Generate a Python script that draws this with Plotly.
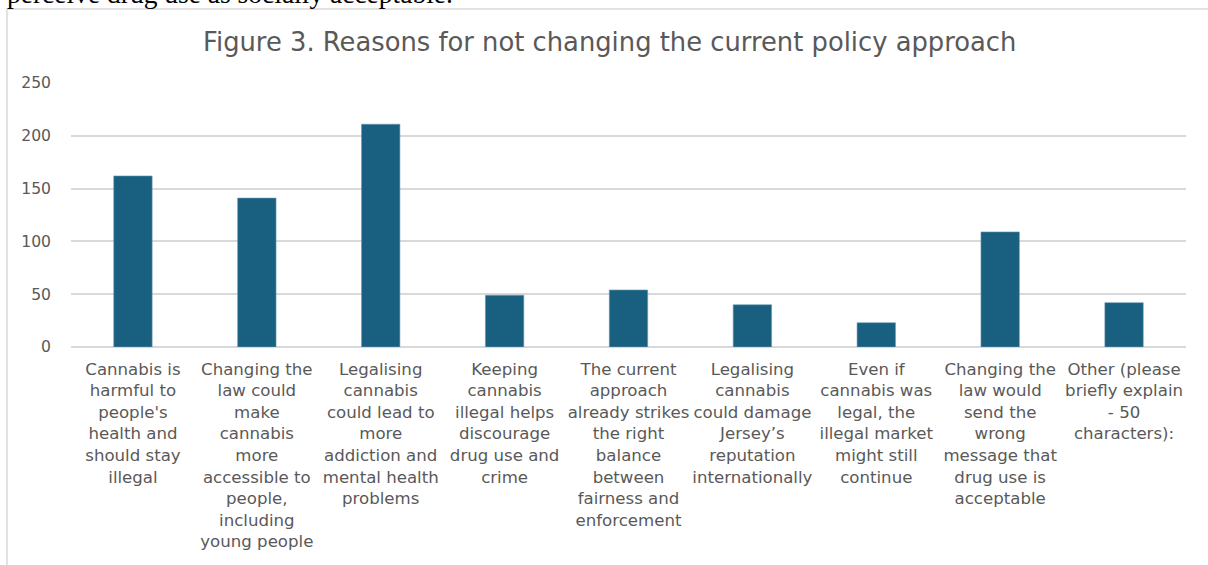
import plotly.graph_objects as go

categories = [
    "Cannabis is<br>harmful to<br>people's<br>health and<br>should stay<br>illegal",
    "Changing the<br>law could<br>make<br>cannabis<br>more<br>accessible to<br>people,<br>including<br>young people",
    "Legalising<br>cannabis<br>could lead to<br>more<br>addiction and<br>mental health<br>problems",
    "Keeping<br>cannabis<br>illegal helps<br>discourage<br>drug use and<br>crime",
    "The current<br>approach<br>already strikes<br>the right<br>balance<br>between<br>fairness and<br>enforcement",
    "Legalising<br>cannabis<br>could damage<br>Jersey’s<br>reputation<br>internationally",
    "Even if<br>cannabis was<br>legal, the<br>illegal market<br>might still<br>continue",
    "Changing the<br>law would<br>send the<br>wrong<br>message that<br>drug use is<br>acceptable",
    "Other (please<br>briefly explain<br>- 50<br>characters):",
]
values = [162, 141, 211, 49, 54, 40, 23, 109, 42]
y_ticks = [0, 50, 100, 150, 200, 250]

W, H = 1208, 565
L, R, T, B = 71, 1186, 83, 347
FONT = "DejaVu Sans"

def px_x(x):
    return (x - L) / (R - L)

def px_y(y):
    return (B - y) / (B - T)

fig = go.Figure(go.Bar(
    x=list(range(len(categories))),
    y=values,
    marker=dict(color="#185f80", line=dict(color="#6f9bb1", width=0.6)),
    width=0.31,
))

fig.update_layout(
    width=W, height=H, autosize=False,
    margin=dict(l=L, r=W - R, t=T, b=H - B, pad=0),
    plot_bgcolor="white", paper_bgcolor="white",
    showlegend=False,
    font=dict(family=FONT, color="#595959"),
    xaxis=dict(
        tickmode="array", tickvals=list(range(len(categories))), ticktext=categories,
        range=[-0.5, len(categories) - 0.5], showgrid=False, zeroline=False,
        showline=False, ticks="", tickangle=0, ticklabelstandoff=10,
        tickfont=dict(size=16.6, color="#595959", family=FONT),
    ),
    yaxis=dict(
        range=[0, 250], tickvals=y_ticks, showgrid=True, gridcolor="#d9d9d9",
        gridwidth=1.5, zeroline=True, zerolinecolor="#d9d9d9", zerolinewidth=1.5,
        showline=False, ticks="", ticklabelstandoff=19,
        tickfont=dict(size=15.6, color="#595959", family=FONT),
    ),
    shapes=[dict(
        type="rect", xref="paper", yref="paper",
        x0=px_x(7), x1=px_x(1230), y0=px_y(600), y1=px_y(9),
        line=dict(color="#d9d9d9", width=1.5), fillcolor="rgba(0,0,0,0)", layer="below",
    )],
    annotations=[
        dict(text="Figure 3. Reasons for not changing the current policy approach",
             xref="paper", yref="paper", x=px_x(609), y=px_y(42),
             xanchor="center", yanchor="middle", showarrow=False,
             font=dict(size=25.8, color="#595959", family=FONT)),
        dict(text="perceive drug use as socially acceptable.",
             xref="paper", yref="paper", x=px_x(5), y=px_y(-7),
             xanchor="left", yanchor="middle", showarrow=False,
             font=dict(size=27.5, color="#000000", family="Liberation Serif")),
    ],
)

fig.write_html("out.html", config={"displayModeBar": False},
               post_script="document.body.style.margin='0';document.body.style.padding='0';")
